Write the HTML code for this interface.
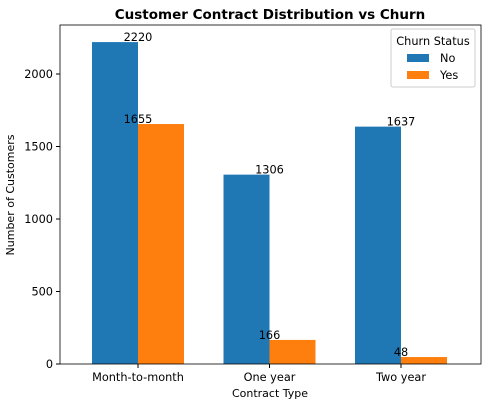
<!DOCTYPE html>
<html><head><meta charset="utf-8"><style>
body{margin:0;background:#fff;font-family:"Liberation Sans","DejaVu Sans",sans-serif;}
svg text{font-family:"DejaVu Sans","Liberation Sans",sans-serif;}
</style></head><body>
<svg id="chart" width="485" height="408" xmlns="http://www.w3.org/2000/svg">
<text x="270" y="19" text-anchor="middle" font-size="13.5" font-weight="bold" fill="#000">Customer Contract Distribution vs Churn</text>
<g id="plot"></g>
<text x="270" y="397" text-anchor="middle" font-size="11">Contract Type</text>
<text transform="translate(14,195) rotate(-90)" text-anchor="middle" font-size="11">Number of Customers</text>
<g>
<rect x="391" y="29" width="84" height="58" fill="#fff" stroke="#ccc" rx="2"/>
<text x="433" y="45" text-anchor="middle" font-size="11.3">Churn Status</text>
<rect x="407" y="54" width="22" height="8" fill="#1f77b4"/>
<text x="440" y="62" font-size="11.3">No</text>
<rect x="407" y="71" width="22" height="8" fill="#ff7f0e"/>
<text x="440" y="79" font-size="11.3">Yes</text>
</g>
</svg>
<script>
const categories = ["Month-to-month","One year","Two year"];
const noValues = [2220,1306,1637];
const yesValues = [1655,166,48];
const yTicks = [0,500,1000,1500,2000];
const NS="http://www.w3.org/2000/svg";
const L=60,R=481,T=25,B=364;
const y=v=>B-v*0.145;
const x=i=>138+i*131.5;
const bw=46;
const g=document.getElementById('plot');
function el(t,a){const e=document.createElementNS(NS,t);for(const k in a)e.setAttribute(k,a[k]);g.appendChild(e);return e;}
yTicks.forEach(v=>{
  const tk=el('line',{x1:L-4,x2:L,y1:y(v),y2:y(v),stroke:'#000'});
  
  
  const t=el('text',{x:L-7,y:y(v)+4,'text-anchor':'end','font-size':'11.3'});
  t.textContent=v;
  
  
});
categories.forEach((c,i)=>{
  const b1=el('rect',{x:x(i)-bw,y:y(noValues[i]),width:bw,height:B-y(noValues[i]),fill:'#1f77b4'});
  
  
  const b2=el('rect',{x:x(i),y:y(yesValues[i]),width:bw,height:B-y(yesValues[i]),fill:'#ff7f0e'});
  
  
  const l1=el('text',{x:x(i),y:y(noValues[i])-1,'text-anchor':'middle','font-size':'11.3'});
  l1.textContent=noValues[i];
  
  
  const l2=el('text',{x:x(i),y:y(yesValues[i])-1,'text-anchor':'middle','font-size':'11.3'});
  l2.textContent=yesValues[i];
  
  
  const tk=el('line',{x1:x(i),x2:x(i),y1:B,y2:B+4,stroke:'#000'});
  
  
  const t=el('text',{x:x(i),y:B+17,'text-anchor':'middle','font-size':'11.3'});
  t.textContent=c;
  
  
});
const fr=el('rect',{x:L,y:T,width:R-L,height:B-T,fill:'none',stroke:'#000','stroke-width':0.8});


</script>
</body></html>
